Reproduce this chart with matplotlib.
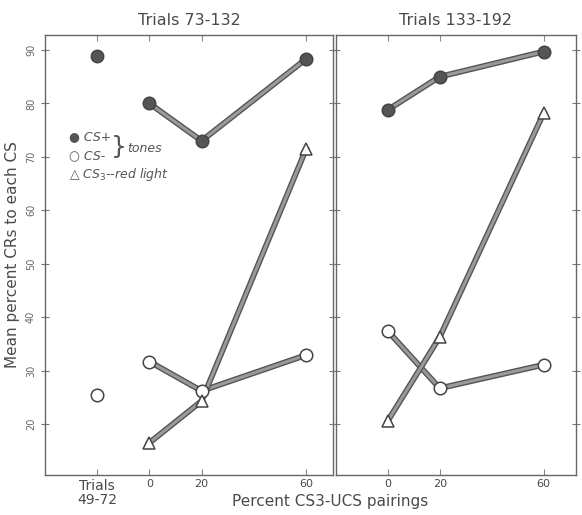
import matplotlib.pyplot as plt
import matplotlib.patheffects as pe

# data
pairings = [0, 20, 60]
base_x = -20  # "Trials 49-72" column
base_cs_plus = 88.9
base_cs_minus = 25.4

# Trials 73-132
a_cs_plus = [80.0, 73.0, 88.3]
a_cs_minus = [31.7, 26.2, 32.9]
a_cs3 = [16.5, 24.3, 71.4]

# Trials 133-192
b_cs_plus = [78.8, 85.0, 89.7]
b_cs_minus = [37.4, 26.7, 31.1]
b_cs3 = [20.6, 36.3, 78.2]

yticks = [20, 30, 40, 50, 60, 70, 80, 90]
titles = ['Trials 73-132', 'Trials 133-192']

ink = '#4a4a4a'
line_fx = [pe.Stroke(linewidth=4.2, foreground='#555555'), pe.Normal()]

fig = plt.figure(figsize=(5.82, 5.15), dpi=100)
ax1 = fig.add_axes([0.0773, 0.078, 0.495, 0.854])
ax2 = fig.add_axes([0.577, 0.078, 0.413, 0.854], sharey=ax1)


def draw(ax, cs_plus, cs_minus, cs3):
    mk = dict(ls='none', ms=9, mew=1.1, mec='#444444', zorder=4)
    for vals, m, fc in [(cs_minus, 'o', 'white'), (cs3, '^', 'white'), (cs_plus, 'o', '#555555')]:
        ax.plot(pairings, vals, color='#9a9a9a', lw=2.2, path_effects=line_fx, zorder=3)
        ax.plot(pairings, vals, marker=m, mfc=fc, **mk)


draw(ax1, a_cs_plus, a_cs_minus, a_cs3)
draw(ax2, b_cs_plus, b_cs_minus, b_cs3)
ax1.plot([base_x], [base_cs_plus], 'o', ms=9, mfc='#555555', mec='#444444', zorder=3)
ax1.plot([base_x], [base_cs_minus], 'o', ms=9, mfc='white', mec='#444444', mew=1.1, zorder=3)

ax1.set_xlim(-40, 70.4)
ax2.set_xlim(-20, 72.5)
ax1.set_ylim(10.5, 92.8)

for ax, t in zip([ax1, ax2], titles):
    ax.set_title(t, fontsize=11.5, color=ink, pad=7)
    for s in ax.spines.values():
        s.set_color('#666666')
        s.set_linewidth(1.0)
        s.set_linestyle((0, (6, 1)))
    ax.set_yticks(yticks)
    ax.tick_params(axis='y', which='both', direction='inout', length=6, color='#777777',
                   left=True, right=True, labelsize=7, labelcolor='#666666')
    ax.tick_params(axis='x', direction='in', length=4, color='#888888', top=True,
                   labelsize=8, labelcolor=ink, pad=3)

ax1.set_yticklabels([str(v) for v in yticks], rotation=90, va='center')
ax2.tick_params(axis='y', labelleft=False)

ax1.set_xticks([base_x] + pairings)
ax1.set_xticklabels(['Trials\n49-72', '0', '20', '60'])
ax1.get_xticklabels()[0].set_fontsize(10)
ax1.get_xticklabels()[0].set_linespacing(1.0)
ax2.set_xticks(pairings)
ax2.set_xticklabels(['0', '20', '60'])

ax1.set_ylabel('Mean percent CRs to each CS', fontsize=11, color=ink, labelpad=4)
fig.text(0.567, 0.012, 'Percent CS3-UCS pairings', ha='center', va='bottom', fontsize=11, color=ink)

# hand-drawn style key
key = dict(transform=ax1.transAxes, color='#555555', style='italic', fontsize=9, va='center')
ax1.text(0.085, 0.768, '\u25cf CS+', **key)
ax1.text(0.085, 0.726, '\u25cb CS-', **key)
ax1.text(0.085, 0.682, '\u25b3 CS$_3$--red light', **key)
ax1.text(0.23, 0.746, '}', transform=ax1.transAxes, color='#555555', fontsize=18, va='center')
ax1.text(0.285, 0.742, 'tones', **key)

fig.savefig('out.png', dpi=100)
